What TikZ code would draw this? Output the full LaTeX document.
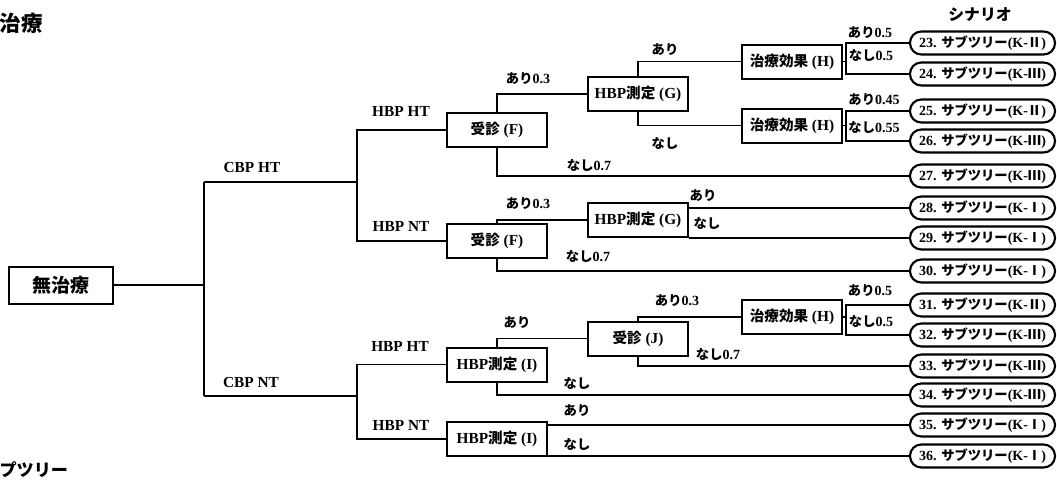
\documentclass[tikz,border=0pt]{standalone}
\usepackage{fontspec}
\setmainfont{Liberation Serif}
\newfontfamily\jpfont{Noto Sans CJK JP}[Scale=0.95]
\newcommand{\J}[1]{{\jpfont #1}}
\usetikzlibrary{positioning}
\tikzset{
  box/.style     = {draw,line width=1.5pt,minimum width=75pt,
                    minimum height=25.5pt,inner sep=1pt,
                    font=\fontsize{11.5}{13}\selectfont\bfseries},
  rootbox/.style = {box,minimum width=78pt,minimum height=27.75pt,
                    font=\fontsize{15}{17}\selectfont\bfseries},
  scen/.style    = {draw,line width=1.6pt,rounded corners=8.5pt,
                    minimum width=108.75pt,minimum height=17.25pt,inner sep=1pt,
                    font=\fontsize{10.5}{12}\selectfont\bfseries},
  wire/.style    = {line width=1pt},
  brlbl/.style   = {font=\fontsize{11.5}{13}\selectfont\bfseries,inner sep=1pt},
  prob/.style    = {font=\fontsize{10.5}{12}\selectfont\bfseries,inner sep=1pt},
  hdr/.style     = {font=\fontsize{12.5}{14}\selectfont\bfseries,inner sep=1pt},
}

\begin{document}
\begin{tikzpicture}[x=0.75pt,y=-0.75pt]
  \useasboundingbox (0,0) rectangle (1057,482);
  % Headings
  \node[hdr,anchor=west,font=\fontsize{17}{19}\selectfont\bfseries] (ttl) at (-2,23) {\J{治療}};
  \node[hdr] (scn) at (980,15) {\J{シナリオ}};
  \node[hdr,anchor=west,font=\fontsize{13.5}{15}\selectfont\bfseries] (sub) at (-2,470) {\J{プツリー}};

  % Decision boxes
  \node[rootbox] (root) at (61,285) {\J{無治療}};
  \node[box] (F1) at (497,130)   {\J{受診} (F)};
  \node[box] (G1) at (638,94)    {HBP\J{測定} (G)};
  \node[box] (H1) at (792,61.5)  {\J{治療効果} (H)};
  \node[box] (H2) at (792,125.5) {\J{治療効果} (H)};
  \node[box] (F2) at (497,241)   {\J{受診} (F)};
  \node[box] (G2) at (638,220)   {HBP\J{測定} (G)};
  \node[box] (I1) at (497,364.5) {HBP\J{測定} (I)};
  \node[box] (J)  at (638,338.5) {\J{受診} (J)};
  \node[box] (H3) at (792,317)   {\J{治療効果} (H)};
  \node[box] (I2) at (497,439)   {HBP\J{測定} (I)};

  % Scenario ends
  \foreach \n/\y/\k in {23/43/Ⅱ, 24/74/Ⅲ, 25/111/Ⅱ, 26/141/Ⅲ, 27/176/Ⅲ,
                        28/208/Ⅰ, 29/238/Ⅰ, 30/271/Ⅰ, 31/305/Ⅱ, 32/335/Ⅲ,
                        33/366/Ⅲ, 34/395/Ⅲ, 35/425/Ⅰ, 36/456/Ⅰ}
    \node[scen] (s\n) at (982.5,\y) {\n. \J{サブツリー}(K-\J{\k})};

  % Fork points
  \coordinate (ca) at (204,182);
  \coordinate (cb) at (204,396);
  \coordinate (kb) at (357,241);
  \coordinate (kd) at (357,439);
  \coordinate (h1) at (846,61.5);
  \coordinate (h2) at (846,125.5);
  \coordinate (h3) at (846,317);

  % CBP / HBP branches
  \draw[wire] (root.east) -- (root.east -| ca);
  \draw[wire] (ca) -- (cb);
  \draw[wire] (ca) -- (ca -| kb);
  \draw[wire] (cb) -- (cb -| kd);
  \draw[wire] (F1.west) -| (kb) -- (F2.west);
  \draw[wire] (I1.west) -| (kd) -- (I2.west);

  % CBP HT / HBP HT
  \draw[wire] (F1.north) |- (G1.west);
  \draw[wire] (F1.south) |- (s27.west);
  \draw[wire] (G1.north) |- (H1.west);
  \draw[wire] (G1.south) |- (H2.west);
  \draw[wire] (H1.east) -- (h1);
  \draw[wire] (s23.west) -| (h1) |- (s24.west);
  \draw[wire] (H2.east) -- (h2);
  \draw[wire] (s25.west) -| (h2) |- (s26.west);
  % CBP HT / HBP NT
  \draw[wire] (F2.north) |- (G2.west);
  \draw[wire] (F2.south) |- (s30.west);
  \draw[wire] (G2.east |- s28.west) -- (s28.west);
  \draw[wire] (G2.east |- s29.west) -- (s29.west);
  % CBP NT / HBP HT
  \draw[wire] (I1.north) |- (J.west);
  \draw[wire] (I1.south) |- (s34.west);
  \draw[wire] (J.north) |- (H3.west);
  \draw[wire] (J.south) |- (s33.west);
  \draw[wire] (H3.east) -- (h3);
  \draw[wire] (s31.west) -| (h3) |- (s32.west);
  % CBP NT / HBP NT
  \draw[wire] (I2.east |- s35.west) -- (s35.west);
  \draw[wire] (I2.east |- s36.west) -- (s36.west);

  % Branch labels
  \node[brlbl] (lca) at (252,167) {CBP HT};
  \node[brlbl] (lcb) at (251,382) {CBP NT};
  \node[brlbl] (lk1) at (401,112) {HBP HT};
  \node[brlbl] (lk2) at (401,226) {HBP NT};
  \node[brlbl] (lk3) at (400,346) {HBP HT};
  \node[brlbl] (lk4) at (401,425) {HBP NT};

  % Probabilities
  \node[prob] (p1)  at (528,79)  {\J{あり}0.3};
  \node[prob] (p2)  at (589,165) {\J{なし}0.7};
  \node[prob] (p3)  at (665,50)  {\J{あり}};
  \node[prob] (p4)  at (665,143) {\J{なし}};
  \node[prob] (p5)  at (870,33)  {\J{あり}0.5};
  \node[prob] (p6)  at (871,55)  {\J{なし}0.5};
  \node[prob] (p7)  at (874,100) {\J{あり}0.45};
  \node[prob] (p8)  at (874,127) {\J{なし}0.55};
  \node[prob] (p9)  at (528,204) {\J{あり}0.3};
  \node[prob] (p10) at (703,196) {\J{あり}};
  \node[prob] (p11) at (707,223) {\J{なし}};
  \node[prob] (p12) at (588,256) {\J{なし}0.7};
  \node[prob] (p13) at (517,323) {\J{あり}};
  \node[prob] (p14) at (677,301) {\J{あり}0.3};
  \node[prob] (p15) at (718,354) {\J{なし}0.7};
  \node[prob] (p16) at (870,291) {\J{あり}0.5};
  \node[prob] (p17) at (871,321) {\J{なし}0.5};
  \node[prob] (p18) at (577,383) {\J{なし}};
  \node[prob] (p19) at (577,411) {\J{あり}};
  \node[prob] (p20) at (577,444) {\J{なし}};
\end{tikzpicture}
\end{document}
